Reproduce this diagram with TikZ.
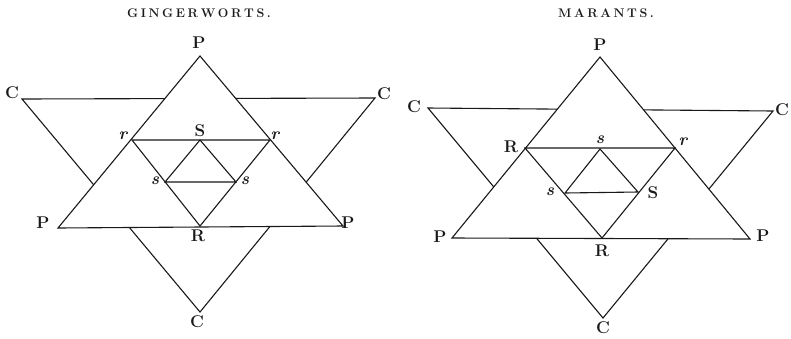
\documentclass[tikz,border=0pt]{standalone}
\usepackage{fontspec}
\usetikzlibrary{positioning}
\definecolor{inkblack}{RGB}{25,25,25}
\newcommand{\tk}{\kern2.6pt}

\begin{document}
\begin{tikzpicture}[x=1pt,y=-1pt,line width=1.1pt,draw=inkblack,text=inkblack,
    lbl/.style={font=\fontsize{17}{17}\selectfont\bfseries,inner sep=0pt},
    sml/.style={font=\fontsize{17}{17}\selectfont\bfseries\itshape,inner sep=0pt},
    ttl/.style={font=\fontsize{12.5}{12.5}\selectfont\bfseries,inner sep=0pt}]
    \useasboundingbox (0,0) rectangle (791,338);

    % gingerworts
    \node[ttl] (gtitle) at (199,13) {G\tk I\tk N\tk G\tk E\tk R\tk W\tk O\tk R\tk T\tk S\tk .};
    \coordinate (gPT) at (200,56);   \coordinate (gPL) at (58,228);   \coordinate (gPR) at (343,226);
    \coordinate (gCL) at (22,99);    \coordinate (gCR) at (375,98);   \coordinate (gCB) at (200,312);
    \coordinate (grL) at (132,140);  \coordinate (grR) at (270,140);  \coordinate (gS) at (200,140);
    \coordinate (gsL) at (165,182);  \coordinate (gsR) at (236,182);  \coordinate (gR) at (200,226);
    \draw (gCL) -- (gCR) -- (gCB) -- cycle;
    \filldraw[fill=white] (gPT) -- (gPR) -- (gPL) -- cycle;
    \draw (grL) -- (grR) -- (gR) -- cycle;
    \draw (gS) -- (gsR) -- (gsL) -- cycle;
    \node[lbl] (gPTl) at (199,43) {P};
    \node[lbl] (gPLl) at (43,223) {P};
    \node[lbl] (gPRl) at (348,223) {P};
    \node[lbl] (gCLl) at (12,93) {C};
    \node[lbl] (gCRl) at (384,94) {C};
    \node[lbl] (gCBl) at (197,322) {C};
    \node[sml] (grLl) at (123,136) {r};
    \node[sml] (grRl) at (275,136) {r};
    \node[lbl] (gSl) at (200,131) {S};
    \node[sml] (gsLl) at (155,181) {s};
    \node[sml] (gsRl) at (245,181) {s};
    \node[lbl] (gRl) at (198,236) {R};

    % marants
    \node[ttl] (mtitle) at (606,13) {M\tk A\tk R\tk A\tk N\tk T\tk S\tk .};
    \coordinate (mPT) at (600,57);   \coordinate (mPL) at (452,238);  \coordinate (mPR) at (750,239);
    \coordinate (mCL) at (428,108);  \coordinate (mCR) at (773,111);  \coordinate (mCB) at (603,318);
    \coordinate (mRL) at (525,148);  \coordinate (mr) at (675,148);   \coordinate (msT) at (600,149);
    \coordinate (msL) at (565,193);  \coordinate (mSR) at (638,192);  \coordinate (mRB) at (602,238);
    \draw (mCL) -- (mCR) -- (mCB) -- cycle;
    \filldraw[fill=white] (mPT) -- (mPR) -- (mPL) -- cycle;
    \draw (mRL) -- (mr) -- (mRB) -- cycle;
    \draw (msT) -- (mSR) -- (msL) -- cycle;
    \node[lbl] (mPTl) at (600,45) {P};
    \node[lbl] (mPLl) at (440,237) {P};
    \node[lbl] (mPRl) at (763,236) {P};
    \node[lbl] (mCLl) at (414,107) {C};
    \node[lbl] (mCRl) at (782,110) {C};
    \node[lbl] (mCBl) at (603,328) {C};
    \node[lbl] (mRLl) at (511,147) {R};
    \node[sml] (mrl) at (683,142) {r};
    \node[sml] (msTl) at (600,140) {s};
    \node[sml] (msLl) at (550,192) {s};
    \node[lbl] (mSRl) at (653,193) {S};
    \node[lbl] (mRBl) at (602,251) {R};
\end{tikzpicture}
\end{document}
